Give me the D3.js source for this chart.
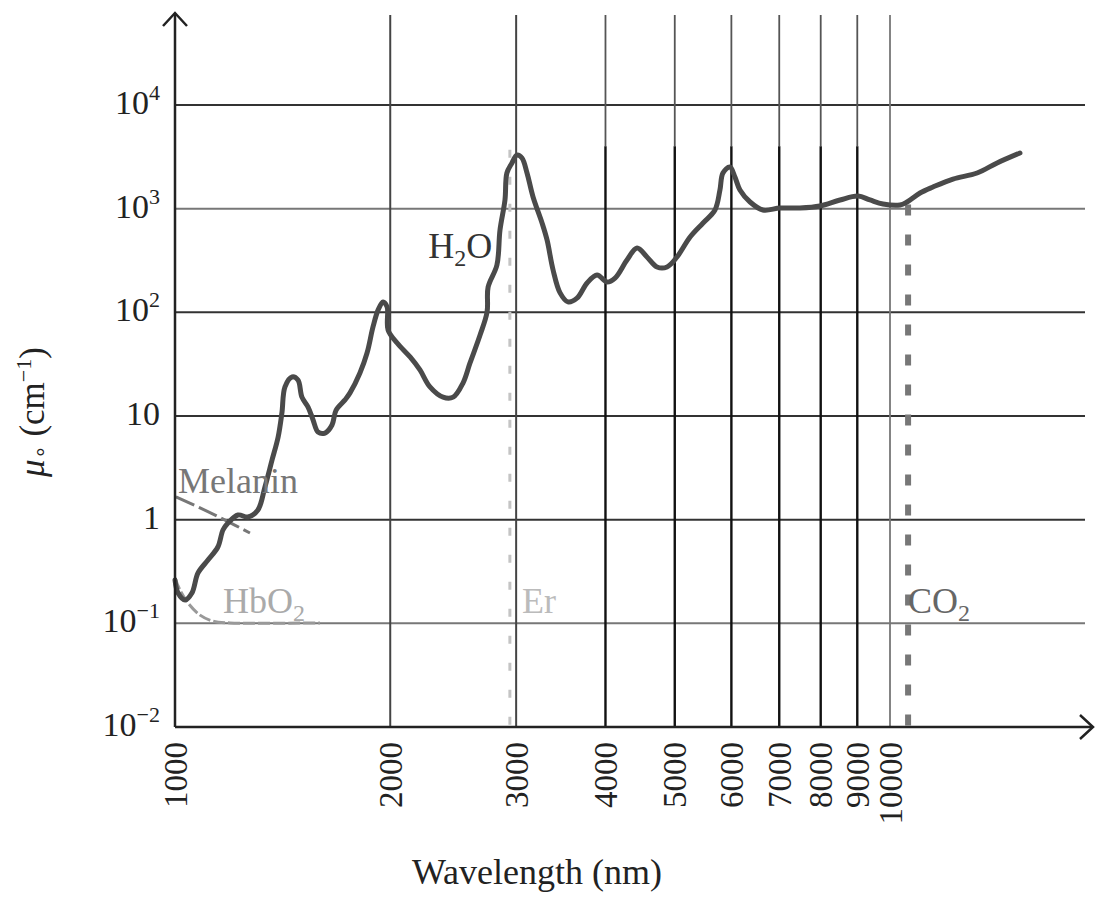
<!DOCTYPE html>
<html>
<head>
<meta charset="utf-8">
<script src="https://cdn.jsdelivr.net/npm/d3@7"></script>
<style>
  body { margin: 0; background: #fff; }
  text { font-family: "Liberation Serif", "Times New Roman", serif; }
</style>
</head>
<body>
<div id="chart"></div>
<script>
"use strict"

// absorption of water (cm^-1) against wavelength (nm)
const waterWavelength = [1000, 1010, 1033, 1056, 1077, 1112, 1148, 1167, 1186, 1225, 1265, 1306,
  1336, 1367, 1394, 1411, 1425, 1458, 1486, 1505, 1535, 1560, 1585, 1621, 1658, 1680, 1729,
  1757, 1814, 1856, 1892, 1923, 1954, 1980, 1986, 2045, 2132, 2201, 2273, 2371, 2449, 2528,
  2586, 2671, 2732, 2741, 2820, 2848, 2894, 2912, 2960, 3008, 3057, 3107, 3168, 3261, 3314,
  3379, 3456, 3545, 3649, 3770, 3893, 4020, 4125, 4287, 4428, 4572, 4722, 4877, 5036, 5253,
  5477, 5691, 5783, 5839, 5972, 6069, 6168, 6372, 6643, 7018, 7484, 7980, 8514, 9021, 9376,
  9777, 10327, 10564, 11015, 11484, 12249, 13237, 14119, 15197];
const waterAbsorption = [0.262, 0.196, 0.168, 0.196, 0.306, 0.408, 0.545, 0.795, 0.929, 1.11, 1.06, 1.24,
  2.07, 3.77, 6.28, 10.7, 19.1, 23.8, 22.2, 15.2, 12.2, 9.16, 7.01, 6.85, 8.19, 11.4, 14.3,
  16.7, 26.0, 40.5, 72.3, 105, 126, 113, 67.6, 50.6, 37.1, 27.8, 19.1, 15.2, 15.2, 20.8,
  32.5, 60.4, 101, 175, 286, 622, 1213, 2208, 2760, 3294, 3080, 2208, 1297, 728, 499,
  256, 154, 126, 137, 192, 229, 196, 214, 320, 418, 342, 274, 274, 342, 533,
  728, 971, 1514, 2208, 2523, 2020, 1514, 1160, 971, 1015, 1015, 1061, 1213, 1325, 1213,
  1109, 1085, 1160, 1416, 1618, 1932, 2208, 2760, 3443];

const melaninWavelength = [1003, 1084, 1175, 1273];
const melaninAbsorption = [1.66, 1.30, 0.99, 0.744];

const hbo2Wavelength = [1000, 1016, 1043, 1084, 1130, 1194, 1595];
const hbo2Absorption = [0.274, 0.21, 0.157, 0.120, 0.105, 0.101, 0.101];

const erbiumWavelength = 2940;
const erbiumTop = 3700;
const co2Wavelength = 10600;
const co2Top = 1100;

const xTicks = [1000, 2000, 3000, 4000, 5000, 6000, 7000, 8000, 9000, 10000];
const yTicks = [0.01, 0.1, 1, 10, 100, 1000, 10000];
const yTickBase = ["10", "10", "1", "10", "10", "10", "10"];
const yTickExp = ["\u22122", "\u22121", "", "", "2", "3", "4"];

let svg = d3.select("#chart").append("svg")
  .attr("width", 1097)
  .attr("height", 898)
  .style("background", "white");

let x = d3.scaleLog()
  .domain([1000, 10000])
  .range([175, 890]);

let y = d3.scaleLog()
  .domain([0.01, 10000])
  .range([727, 105]);

const yTop = y.invert(15);
const gridRight = 1085;

// horizontal grid
svg.append("g").selectAll("line")
  .data(yTicks.slice(1))
  .enter().append("line")
  .attr("x1", x(1000))
  .attr("x2", gridRight)
  .attr("y1", d => y(d))
  .attr("y2", d => y(d))
  .style("stroke", d => (d === 0.1 || d === 1000) ? "#777" : "#333")
  .style("stroke-width", 2);

// vertical grid
let vGrid = svg.append("g");
xTicks.slice(1).forEach(function(v) {
  if (v < 4000) {
    vGrid.append("line")
      .attr("x1", x(v)).attr("x2", x(v))
      .attr("y1", y(yTop)).attr("y2", y(0.01))
      .style("stroke", "#444")
      .style("stroke-width", 2);
  } else if (v < 10000) {
    vGrid.append("line")
      .attr("x1", x(v)).attr("x2", x(v))
      .attr("y1", y(yTop)).attr("y2", y(4000))
      .style("stroke", "#555")
      .style("stroke-width", 1.8);
    vGrid.append("line")
      .attr("x1", x(v)).attr("x2", x(v))
      .attr("y1", y(4000)).attr("y2", y(0.01))
      .style("stroke", "#111")
      .style("stroke-width", 2.4);
  } else {
    vGrid.append("line")
      .attr("x1", x(v)).attr("x2", x(v))
      .attr("y1", y(yTop)).attr("y2", y(0.01))
      .style("stroke", "#777")
      .style("stroke-width", 1.8);
  }
});

let line = d3.line()
  .x(d => x(d[0]))
  .y(d => y(d[1]))
  .curve(d3.curveCatmullRom);

// Er laser line
svg.append("line")
  .attr("x1", x(erbiumWavelength)).attr("x2", x(erbiumWavelength))
  .attr("y1", y(erbiumTop)).attr("y2", y(0.01))
  .style("stroke", "#c4c4c4")
  .style("stroke-width", 3)
  .style("stroke-dasharray", "8,19");

// CO2 laser line
svg.append("line")
  .attr("x1", x(co2Wavelength)).attr("x2", x(co2Wavelength))
  .attr("y1", y(co2Top)).attr("y2", y(0.01))
  .style("stroke", "#777")
  .style("stroke-width", 6)
  .style("stroke-dasharray", "11,19");

// melanin
svg.append("path")
  .datum(d3.zip(melaninWavelength, melaninAbsorption))
  .attr("d", line)
  .style("fill", "none")
  .style("stroke", "#777")
  .style("stroke-width", 3)
  .style("stroke-dasharray", "20,5");

// HbO2
svg.append("path")
  .datum(d3.zip(hbo2Wavelength, hbo2Absorption))
  .attr("d", line)
  .style("fill", "none")
  .style("stroke", "#999")
  .style("stroke-width", 3)
  .style("stroke-dasharray", "12,3");

// water
svg.append("path")
  .datum(d3.zip(waterWavelength, waterAbsorption))
  .attr("d", line)
  .style("fill", "none")
  .style("stroke", "#4a4a4a")
  .style("stroke-width", 5)
  .style("stroke-linejoin", "round")
  .style("stroke-linecap", "round");

// axes with arrow heads
let axes = svg.append("g").style("stroke", "#222").style("fill", "none").style("stroke-width", 2.5);
axes.append("line")
  .attr("x1", x(1000)).attr("x2", x(1000))
  .attr("y1", y(0.01)).attr("y2", 13);
axes.append("line")
  .attr("x1", x(1000)).attr("x2", 1093)
  .attr("y1", y(0.01)).attr("y2", y(0.01));
axes.append("path")
  .attr("d", "M" + (x(1000) - 12) + ",26L" + x(1000) + ",13L" + (x(1000) + 12) + ",26");
axes.append("path")
  .attr("d", "M1080," + (y(0.01) - 12) + "L1093," + y(0.01) + "L1080," + (y(0.01) + 12));

// x tick labels
svg.append("g").selectAll("text")
  .data(xTicks)
  .enter().append("text")
  .attr("transform", d => "translate(" + x(d) + ",742) rotate(-90)")
  .attr("text-anchor", "end")
  .attr("dy", "0.35em")
  .style("font-size", "33px")
  .style("fill", "#222")
  .text(d => d);

// y tick labels
let yLabels = svg.append("g").selectAll("text")
  .data(yTicks)
  .enter().append("text")
  .attr("x", 160)
  .attr("y", d => y(d) + 9)
  .attr("text-anchor", "end")
  .style("font-size", "34px")
  .style("fill", "#222");
yLabels.append("tspan").text((d, i) => yTickBase[i]);
yLabels.append("tspan")
  .attr("dy", -14)
  .style("font-size", "22px")
  .text((d, i) => yTickExp[i]);

// axis titles
svg.append("text")
  .attr("x", 537)
  .attr("y", 884)
  .attr("text-anchor", "middle")
  .style("font-size", "36px")
  .style("fill", "#222")
  .text("Wavelength (nm)");

let yTitle = svg.append("text")
  .attr("transform", "translate(44,412) rotate(-90)")
  .attr("text-anchor", "middle")
  .style("font-size", "35px")
  .style("fill", "#222");
yTitle.append("tspan").style("font-style", "italic").text("\u03bc");
yTitle.append("tspan").attr("dy", 3).style("font-size", "22px").text("\u2218");
yTitle.append("tspan").attr("dy", -3).text(" (cm");
yTitle.append("tspan").attr("dy", -13).style("font-size", "22px").text("\u22121");
yTitle.append("tspan").attr("dy", 13).text(")");

// curve labels
function label(wl, val, anchor, color, main, sub, tail) {
  let t = svg.append("text")
    .attr("x", x(wl))
    .attr("y", y(val))
    .attr("text-anchor", anchor)
    .style("font-size", "36px")
    .style("fill", color);
  t.append("tspan").text(main);
  if (sub) {
    t.append("tspan").attr("dy", 8).style("font-size", "24px").text(sub);
    if (tail) t.append("tspan").attr("dy", -8).text(tail);
  }
}

label(2777, 334, "end", "#333", "H", "2", "O");
label(1010, 1.81, "start", "#777", "Melanin");
label(1167, 0.126, "start", "#aaa", "HbO", "2");
label(3057, 0.126, "start", "#bbb", "Er");
label(10600, 0.126, "start", "#666", "CO", "2");
</script>
</body>
</html>
